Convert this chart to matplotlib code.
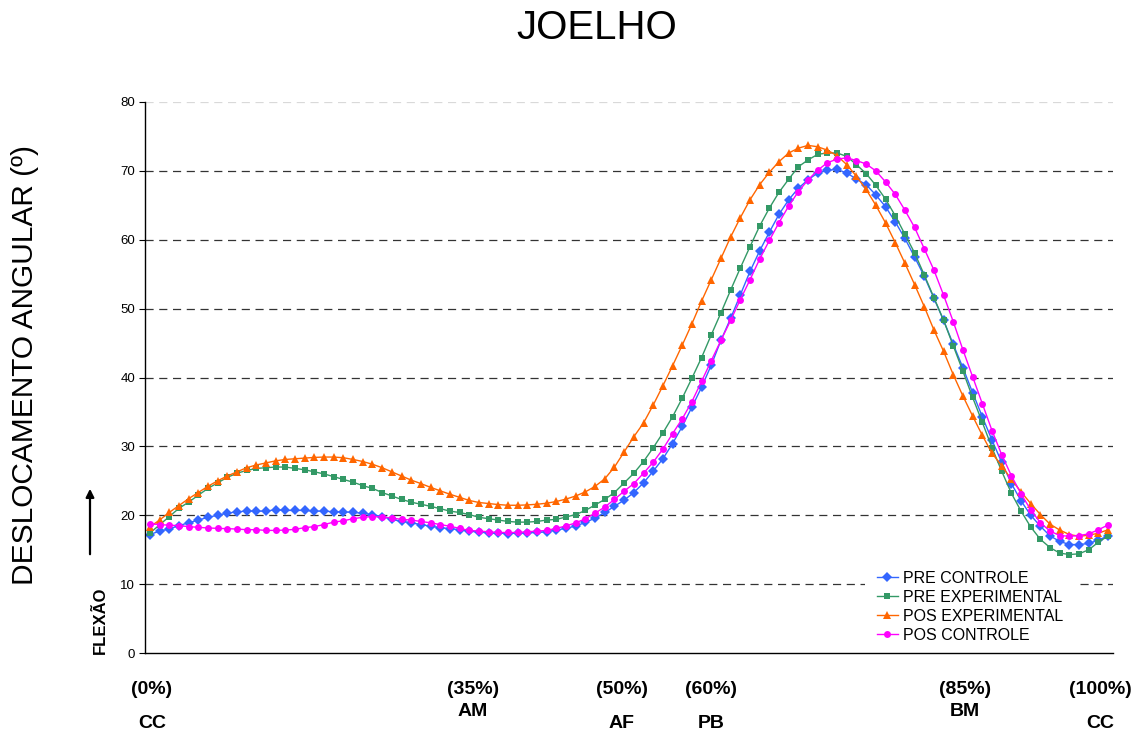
import matplotlib
matplotlib.use('Agg')
import matplotlib.pyplot as plt
import numpy as np

# ---------------- data ----------------
pre_controle = [
    17.2, 17.7, 18.0, 18.5, 18.9, 19.3, 19.7, 20.0, 20.3, 20.5,
    20.6, 20.6, 20.6, 20.8, 20.7, 20.7, 20.7, 20.6, 20.6, 20.5,
    20.5, 20.4, 20.3, 20.1, 19.8, 19.4, 19.1, 18.9, 18.65, 18.4,
    18.2, 18.05, 17.9, 17.7, 17.55, 17.45, 17.4, 17.35, 17.4, 17.45,
    17.5, 17.6, 17.85, 18.1, 18.45, 18.95, 19.6, 20.4, 21.3, 22.2,
    23.3, 24.7, 26.4, 28.2, 30.4, 32.9, 35.7, 38.6, 41.8, 45.4,
    48.6, 52.0, 55.4, 58.4, 61.1, 63.7, 65.8, 67.5, 68.7, 69.7,
    70.1, 70.2, 69.7, 68.8, 68.0, 66.5, 64.8, 62.6, 60.2, 57.5,
    54.7, 51.5, 48.3, 44.8, 41.4, 37.8, 34.3, 30.9, 27.7, 24.6,
    22.1, 20.0, 18.4, 17.0, 16.2, 15.75, 15.75, 15.9, 16.4, 17.0,
]
pre_experimental = [
    17.4, 18.6, 19.8, 21.0, 21.9, 22.9, 23.9, 24.7, 25.5, 26.1,
    26.5, 26.8, 26.9, 27.0, 27.0, 26.8, 26.6, 26.3, 26.0, 25.6,
    25.2, 24.8, 24.3, 23.9, 23.3, 22.8, 22.3, 21.9, 21.6, 21.3,
    20.95, 20.6, 20.4, 20.1, 19.7, 19.5, 19.3, 19.1, 19.0, 19.0,
    19.1, 19.3, 19.4, 19.75, 20.1, 20.7, 21.5, 22.3, 23.3, 24.7,
    26.1, 27.8, 29.8, 31.95, 34.3, 37.0, 39.9, 42.9, 46.2, 49.4,
    52.7, 55.9, 59.0, 62.0, 64.6, 66.9, 68.8, 70.6, 71.6, 72.4,
    72.6, 72.6, 72.1, 70.9, 69.6, 67.9, 65.9, 63.5, 60.8, 58.1,
    54.9, 51.6, 48.3, 44.6, 40.9, 37.1, 33.5, 29.8, 26.4, 23.2,
    20.6, 18.3, 16.5, 15.3, 14.5, 14.3, 14.4, 15.0, 16.1, 17.0,
]
pos_experimental = [
    18.3, 19.3, 20.4, 21.4, 22.4, 23.3, 24.2, 25.0, 25.7, 26.3,
    26.9, 27.3, 27.6, 27.9, 28.1, 28.2, 28.3, 28.4, 28.45, 28.45,
    28.35, 28.1, 27.8, 27.4, 26.9, 26.3, 25.7, 25.1, 24.6, 24.05,
    23.55, 23.05, 22.6, 22.15, 21.85, 21.7, 21.55, 21.45, 21.45, 21.5,
    21.6, 21.75, 22.0, 22.35, 22.8, 23.4, 24.2, 25.3, 27.0, 29.2,
    31.4, 33.4, 36.0, 38.8, 41.7, 44.7, 47.8, 51.1, 54.2, 57.3,
    60.4, 63.2, 65.8, 68.0, 69.8, 71.35, 72.6, 73.3, 73.7, 73.5,
    73.0, 72.2, 70.9, 69.2, 67.3, 65.0, 62.45, 59.6, 56.6, 53.5,
    50.3, 46.9, 43.8, 40.4, 37.3, 34.4, 31.6, 29.0, 27.2, 25.2,
    23.4, 21.7, 20.1, 18.7, 17.85, 17.2, 16.95, 17.1, 17.4, 17.9,
]
pos_controle = [
    18.75, 18.65, 18.55, 18.5, 18.35, 18.25, 18.15, 18.1, 18.05, 18.0,
    17.9, 17.9, 17.8, 17.8, 17.85, 17.95, 18.2, 18.35, 18.65, 19.0,
    19.2, 19.5, 19.7, 19.8, 19.75, 19.6, 19.4, 19.3, 19.1, 18.9,
    18.65, 18.4, 18.1, 17.8, 17.7, 17.6, 17.5, 17.5, 17.5, 17.6,
    17.7, 17.8, 18.1, 18.45, 18.9, 19.5, 20.3, 21.2, 22.3, 23.5,
    24.6, 26.1, 27.7, 29.6, 31.85, 34.0, 36.5, 39.45, 42.45, 45.4,
    48.3, 51.3, 54.2, 57.2, 59.9, 62.5, 64.9, 67.0, 68.7, 70.1,
    71.2, 71.7, 71.9, 71.5, 71.0, 70.0, 68.4, 66.6, 64.3, 61.8,
    58.7, 55.6, 51.95, 48.1, 44.0, 40.1, 36.2, 32.3, 28.8, 25.75,
    23.1, 20.8, 18.9, 17.7, 17.05, 16.95, 17.05, 17.3, 17.9, 18.6,
]
series_names = ['PRE CONTROLE', 'PRE EXPERIMENTAL', 'POS EXPERIMENTAL', 'POS CONTROLE']
y_ticks = [0, 10, 20, 30, 40, 50, 60, 70, 80]
phase_pct = ['(0%)', '(35%)', '(50%)', '(60%)', '(85%)', '(100%)']
phase_names = ['CC', 'AM', 'AF', 'PB', 'BM', 'CC']
title_text = 'JOELHO'
ylabel_text = 'DESLOCAMENTO ANGULAR (º)'
flex_text = 'FLEXÃO'

# ---------------- figure ----------------
W, H = 1138, 735
fig = plt.figure(figsize=(W / 100, H / 100), dpi=100)
FONT = ['Liberation Sans', 'DejaVu Sans']
plt.rcParams['font.family'] = FONT

ax_l, ax_r, ax_t, ax_b = 145, 1113, 102, 653
ax = fig.add_axes([ax_l / W, 1 - ax_b / H, (ax_r - ax_l) / W, (ax_b - ax_t) / H])

styles = [
    dict(color='#3366FF', marker='D', markersize=4.6),
    dict(color='#339966', marker='s', markersize=5.0),
    dict(color='#FF6600', marker='^', markersize=5.8),
    dict(color='#FF00FF', marker='o', markersize=5.0),
]
all_series = [pre_controle, pre_experimental, pos_experimental, pos_controle]
for vals, name, st in zip(all_series, series_names, styles):
    x = np.arange(len(vals))
    ax.plot(x, vals, lw=1.0, label=name, markeredgewidth=0, zorder=3, **st)

n = len(pre_controle)
ax.set_xlim(-0.5, n - 0.5)
ax.set_ylim(0, 80)
ax.set_yticks(y_ticks)
ax.set_yticklabels([str(t) for t in y_ticks], fontsize=9.5)
ax.tick_params(axis='y', length=4, width=0.8, pad=3, colors='black')
ax.set_xticks([])

for t in y_ticks[1:]:
    col = '#d9d9d9' if t == 80 else '#333333'
    ax.axhline(t, color=col, lw=0.9, dashes=(6.5, 4.5), zorder=1)

for s in ['top', 'right']:
    ax.spines[s].set_visible(False)
for s in ['left', 'bottom']:
    ax.spines[s].set_linewidth(1.0)
    ax.spines[s].set_zorder(7)

# legend (white box without border, hiding the grid line behind it)
leg = ax.legend(loc='upper left', bbox_to_anchor=(865 / W, 1 - 559 / H),
                bbox_transform=fig.transFigure, frameon=True, fontsize=11.5,
                handlelength=1.3, handletextpad=0.3, labelspacing=0.25,
                borderpad=0.75, borderaxespad=0, fancybox=False,
                facecolor='white', edgecolor='none', framealpha=1)
leg.set_zorder(5)

# title and axis labels
fig.text(597 / W, 1 - 28 / H, title_text, ha='center', va='center', fontsize=29)
fig.text(25 / W, 1 - 365 / H, ylabel_text, ha='center', va='center',
         rotation=90, fontsize=21.5)
fig.text(100 / W, 1 - 620 / H, flex_text, ha='center', va='center',
         rotation=90, fontsize=12, fontweight='bold')
fig.add_artist(matplotlib.patches.FancyArrowPatch(
    (90 / W, 1 - 557 / H), (90 / W, 1 - 486 / H), transform=fig.transFigure,
    arrowstyle='-|>', mutation_scale=12, lw=1.6, color='black'))

# phase labels under the axis
pct_x = [152, 473, 622, 711, 965, 1100]
name_y = [723, 712, 723, 723, 711, 723]
for px, lab, nm, ny in zip(pct_x, phase_pct, phase_names, name_y):
    fig.text(px / W, 1 - 689 / H, lab, ha='center', va='center',
             fontsize=14, fontweight='bold')
    fig.text(px / W, 1 - ny / H, nm, ha='center', va='center',
             fontsize=14, fontweight='bold')

fig.savefig('out.png', dpi=100)
